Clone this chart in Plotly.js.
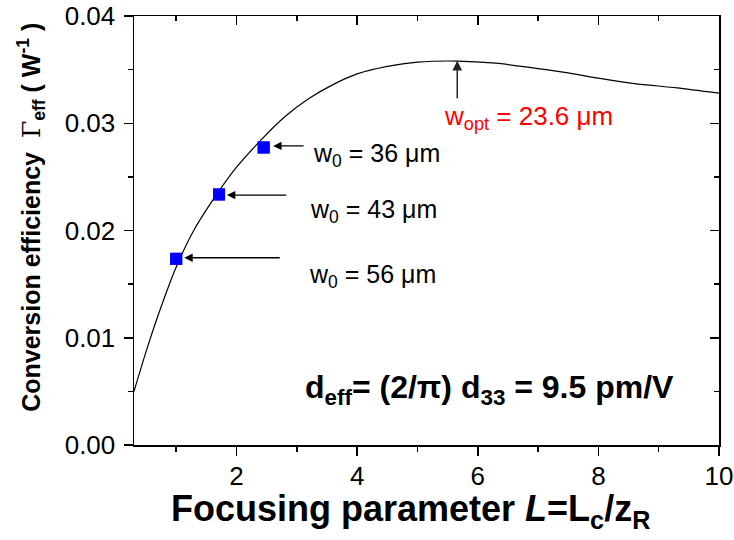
<!DOCTYPE html>
<html>
<head>
<meta charset="utf-8">
<script src="https://cdn.plot.ly/plotly-3.0.1.min.js"></script>
<style>html,body{margin:0;padding:0;background:#fff;}#chart{width:734px;height:540px;}</style>
</head>
<body>
<div id="chart"></div>
<script>
// Curve: focusing parameter L vs conversion efficiency
const curveL = [0.3, 0.5, 0.7, 1.0, 1.3, 1.7, 2.0, 2.4, 2.8, 3.2, 3.6, 4.0, 4.5, 5.0, 5.66, 6.3, 7.0, 7.5, 8.0, 8.6, 9.3, 10];
const curveG = [0.0050, 0.0087, 0.0121, 0.0166, 0.0201, 0.0236, 0.0259, 0.0284, 0.0306, 0.0323, 0.0336, 0.0346, 0.0353, 0.0357, 0.0358, 0.0356, 0.0351, 0.0347, 0.0342, 0.0337, 0.0333, 0.0328];
// Measured points
const pointL = [1.00, 1.71, 2.45];
const pointG = [0.01736, 0.02336, 0.02774];
const pointLabels = ["w<sub>0</sub> = 56 μm", "w<sub>0</sub> = 43 μm", "w<sub>0</sub> = 36 μm"];
const optLabel = "w<sub>opt</sub> = 23.6 μm";
const optL = 5.66;
const deffLabel = "<b>d<sub>eff</sub>= (2/π) d<sub>33</sub> = 9.5 pm/V</b>";
const xTitle = "<b>Focusing parameter <i>L</i>=L<sub>c</sub>/z<sub>R</sub></b>";
const yTitle = "<b>Conversion efficiency  <span style=\"font-family:'DejaVu Serif';font-weight:normal\">Γ</span><sub>eff</sub> ( W<sup>-1</sup> )</b>";
const xTickVals = [2, 4, 6, 8, 10];
const yTickVals = [0.00, 0.01, 0.02, 0.03, 0.04];
const yTickText = ["0.00", "0.01", "0.02", "0.03", "0.04"];

const FONT = "Arial, 'Liberation Sans', sans-serif";
const xr = [0.3, 10], yr = [0, 0.04];

const traces = [
  {x: curveL, y: curveG, type: 'scatter', mode: 'lines', line: {color: '#000', width: 1.2, shape: 'spline', smoothing: 0.7}, hoverinfo: 'skip'},
  {x: pointL, y: pointG, type: 'scatter', mode: 'markers', marker: {symbol: 'square', size: 12, color: '#0000ff'}},
  {x: pointL, y: pointG, xaxis: 'x2', yaxis: 'y2', type: 'scatter', mode: 'markers', marker: {size: 12, color: '#0000ff', symbol: 'square'}, hoverinfo: 'skip'}
];

const arrowTails = [97, 61, 32];
const arrowHeadL = [1.133, 1.84, 2.607];
const arrowHeadG = [0.01746, 0.0233, 0.02789];
const textL = [3.165, 3.19, 3.24];
const textG = [0.01575, 0.0218, 0.02703];

const annotations = [];
for (let i = 0; i < 3; i++) {
  annotations.push({x: arrowHeadL[i], y: arrowHeadG[i], xref: 'x', yref: 'y', text: '', showarrow: true,
    ax: arrowTails[i], ay: 0, arrowhead: 2, arrowsize: 1.3, arrowwidth: 1.3, arrowcolor: '#000'});
  annotations.push({x: textL[i], y: textG[i], xref: 'x', yref: 'y', text: pointLabels[i], showarrow: false,
    xanchor: 'left', yanchor: 'middle', font: {family: FONT, size: 25, color: '#000'}});
}
annotations.push({x: optL, y: 0.03582, xref: 'x', yref: 'y', text: '', showarrow: true,
  ax: 0, ay: 39, arrowhead: 2, arrowsize: 1.3, arrowwidth: 1.5, arrowcolor: '#222'});
annotations.push({x: 5.40, y: 0.0305, xref: 'x', yref: 'y', text: optLabel, showarrow: false,
  xanchor: 'left', yanchor: 'middle', font: {family: FONT, size: 26, color: '#ff0000'}});
annotations.push({x: 3.11, y: 0.0052, xref: 'x', yref: 'y', text: deffLabel, showarrow: false,
  xanchor: 'left', yanchor: 'middle', font: {family: FONT, size: 32, color: '#000'}});
// axis titles
annotations.push({x: 0.4735, y: -0.155, xref: 'paper', yref: 'paper', text: xTitle, showarrow: false,
  xanchor: 'center', yanchor: 'middle', font: {family: FONT, size: 36, color: '#000'}});
annotations.push({x: -0.175, y: 0.531, xref: 'paper', yref: 'paper', text: yTitle, showarrow: false, textangle: -90,
  xanchor: 'center', yanchor: 'middle', font: {family: FONT, size: 25, color: '#000'}});

const axBase = {showgrid: false, zeroline: false, showline: true, linecolor: '#000', linewidth: 1.5,
  tickwidth: 1.5, tickcolor: '#000', ticklen: 9};

const layout = {
  width: 734, height: 540,
  margin: {l: 134, r: 15, t: 16, b: 95},
  paper_bgcolor: '#fff', plot_bgcolor: '#fff',
  showlegend: false,
  font: {family: FONT, color: '#000'},
  xaxis: Object.assign({}, axBase, {
    range: xr, mirror: true, ticks: 'outside',
    tickvals: xTickVals, ticktext: xTickVals.map(String), ticklabeloverflow: 'allow',
    tickfont: {family: FONT, size: 26, color: '#000'}, ticklabelstandoff: -2,
    minor: {dtick: 1, tick0: 0, ticks: 'outside', ticklen: 5, tickwidth: 1.5, tickcolor: '#000'}
  }),
  yaxis: Object.assign({}, axBase, {
    range: yr, mirror: true, ticks: 'outside',
    tickvals: yTickVals, ticktext: yTickText, ticklabelstandoff: 3, ticklabeloverflow: 'allow',
    tickfont: {family: FONT, size: 26, color: '#000'},
    minor: {dtick: 0.005, tick0: 0, ticks: 'outside', ticklen: 5, tickwidth: 1.5, tickcolor: '#000'}
  }),
  xaxis2: Object.assign({}, axBase, {
    overlaying: 'x', side: 'top', anchor: 'y', range: xr, ticks: 'inside',
    tickvals: xTickVals, showticklabels: false,
    minor: {dtick: 1, tick0: 0, ticks: 'inside', ticklen: 5, tickwidth: 1.5, tickcolor: '#000'}
  }),
  yaxis2: Object.assign({}, axBase, {
    overlaying: 'y', side: 'right', anchor: 'x', range: yr, ticks: 'inside',
    tickvals: yTickVals, showticklabels: false,
    minor: {dtick: 0.005, tick0: 0, ticks: 'inside', ticklen: 5, tickwidth: 1.5, tickcolor: '#000'}
  }),
  annotations: annotations
};

Plotly.newPlot('chart', traces, layout, {displayModeBar: false, staticPlot: true});
</script>
</body>
</html>
